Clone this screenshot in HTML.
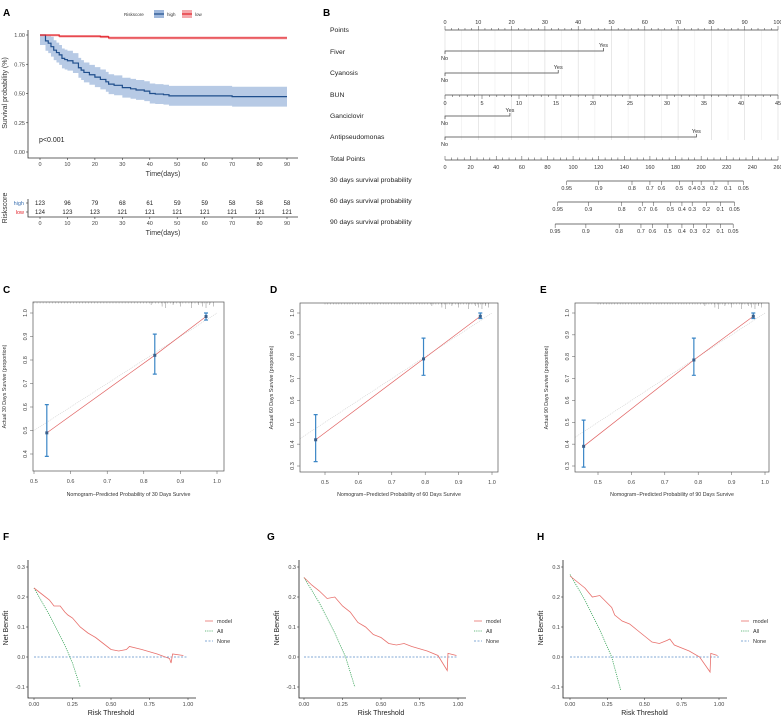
<!DOCTYPE html>
<html><head><meta charset="utf-8">
<style>
html,body{margin:0;padding:0;background:#fff;}
svg{display:block;font-family:"Liberation Sans",Arial,sans-serif;}
</style></head>
<body>
<svg id="fig" width="781" height="717" viewBox="0 0 781 717" xmlns="http://www.w3.org/2000/svg"></svg>
<script>
// ---------- DATA ----------
const kmHighT = [0,2,3,4,5,6,7,8,9,10,12,14,15,16,18,20,22,24,25,27,30,33,35,38,40,42,45,47,55,65,70,80,90];
const kmHighS = [1,0.95,0.93,0.9,0.87,0.85,0.83,0.8,0.79,0.78,0.76,0.72,0.70,0.68,0.66,0.64,0.62,0.60,0.58,0.57,0.55,0.54,0.53,0.52,0.50,0.495,0.49,0.48,0.48,0.48,0.473,0.473,0.473];
const kmLowT = [0,7,20,22,25,90];
const kmLowS = [1,0.99,0.99,0.985,0.975,0.975];
const riskTimes = [0,10,20,30,40,50,60,70,80,90];
const riskHigh = [123,96,79,68,61,59,59,58,58,58];
const riskLow = [124,123,123,121,121,121,121,121,121,121];
const kmYTicks = [0,0.25,0.5,0.75,1.0];

const nomoLabels = ["Points","Fiver","Cyanosis","BUN","Ganciclovir","Antipseudomonas","Total Points","30 days survival probability","60 days survival probability","90 days survival probability"];
const factorNames = ["Fiver","Cyanosis","Ganciclovir","Antipseudomonas"];
const factorYesPoints = [47.6,34,19.5,75.5];
const probTicks = ["0.95","0.9","0.8","0.7","0.6","0.5","0.4","0.3","0.2","0.1","0.05"];
const prob30TotalPts = [95,120,146,160,169,183,193,200,210,221,233];
const prob60TotalPts = [88,112,138,154,163,176,185,193,204,215,226];
const prob90TotalPts = [86,110,136,153,162,174,185,194,204,215,225];

const calPredC = [0.535,0.83,0.97], calObsC = [0.49,0.82,0.985], calLoC = [0.39,0.74,0.97], calHiC = [0.61,0.91,1.0];
const calPredD = [0.472,0.795,0.965], calObsD = [0.42,0.79,0.985], calLoD = [0.32,0.715,0.975], calHiD = [0.535,0.885,1.0];
const calPredE = [0.457,0.787,0.965], calObsE = [0.39,0.785,0.985], calLoE = [0.295,0.715,0.975], calHiE = [0.51,0.885,1.0];

const dcaTF = [0,0.05,0.1,0.13,0.17,0.2,0.22,0.25,0.3,0.35,0.4,0.45,0.5,0.55,0.6,0.62,0.7,0.8,0.88,0.89,0.9,0.97];
const dcaMF = [0.23,0.21,0.19,0.17,0.17,0.15,0.14,0.13,0.1,0.08,0.065,0.045,0.025,0.02,0.025,0.035,0.025,0.01,-0.005,-0.02,0.01,0.005];
const dcaAllTF = [0,0.1,0.2,0.25,0.3], dcaAllF = [0.23,0.14,0.04,-0.02,-0.1];
const dcaTG = [0,0.05,0.1,0.15,0.2,0.25,0.3,0.35,0.4,0.45,0.5,0.55,0.6,0.65,0.7,0.8,0.87,0.93,0.935,0.99];
const dcaMG = [0.265,0.24,0.22,0.195,0.2,0.17,0.15,0.115,0.1,0.075,0.065,0.045,0.04,0.045,0.035,0.02,0.005,-0.045,0.012,0.005];
const dcaAllTG = [0,0.1,0.2,0.27,0.33], dcaAllG = [0.265,0.18,0.08,0,-0.1];
const dcaTH = [0,0.05,0.1,0.15,0.2,0.25,0.28,0.3,0.35,0.4,0.45,0.5,0.55,0.6,0.65,0.67,0.7,0.8,0.87,0.94,0.945,0.99];
const dcaMH = [0.27,0.25,0.23,0.2,0.205,0.18,0.165,0.14,0.12,0.11,0.09,0.07,0.05,0.045,0.055,0.06,0.04,0.02,0.0,-0.05,0.012,0.005];
const dcaAllTH = [0,0.1,0.2,0.28,0.34], dcaAllH = [0.275,0.19,0.09,0,-0.11];

// ---------- HELPERS ----------
const NS = "http://www.w3.org/2000/svg";
const svg = document.getElementById('fig');
function mk(tag, attrs, parent){
  const e = document.createElementNS(NS, tag);
  for (const k in attrs) e.setAttribute(k, attrs[k]);
  (parent || svg).appendChild(e);
  return e;
}
function txt(x,y,s,size,anchor,fill,parent,extra){
  const a = {x:x,y:y,'font-size':size,'text-anchor':anchor||'middle',fill:fill||'#333'};
  if (extra) for (const k in extra) a[k]=extra[k];
  const t = mk('text',a,parent); t.textContent = s; return t;
}
function grp(){ return mk('g',{}); }

// panel letters
[["A",3,16],["B",323,16],["C",3,293],["D",270,293],["E",540,293],["F",3,540],["G",267,540],["H",537,540]].forEach(function(p){
  const t = txt(p[1],p[2],p[0],10,'start','#000',null,{'font-weight':'bold'});
  
  
});

// ---------- PANEL A ----------
(function(){
  const g = grp();
  
  
  const xA = t => 40 + t*(247/90);
  const yA = s => 152 - s*117;
  function stepPath(T,S,off){
    let d = 'M'+xA(T[0])+','+yA(Math.min(1,S[0]+off));
    for (let i=1;i<T.length;i++){ d += ' H'+xA(T[i])+' V'+yA(Math.min(1,S[i]+off)); }
    return d;
  }
  function band(T,S,w){
    let up = stepPath(T,S,w);
    let lo = [];
    for (let i=T.length-1;i>=0;i--){ lo.push([xA(T[i]), yA(Math.max(0,S[i]-w))]); if(i>0) lo.push([xA(T[i]), yA(Math.max(0,S[i-1]-w))]); }
    return up + ' ' + lo.map(p=>'L'+p[0]+','+p[1]).join(' ') + ' Z';
  }
  const hb = mk('path',{d:band(kmHighT,kmHighS,0.085),fill:'#9fb8dc','fill-opacity':0.75,stroke:'none'},g);
  
  
  const lb = mk('path',{d:band(kmLowT,kmLowS,0.012),fill:'#f4a8ac','fill-opacity':0.8,stroke:'none'},g);
  
  
  const hl = mk('path',{d:stepPath(kmHighT,kmHighS,0),fill:'none',stroke:'#1f4e8c','stroke-width':1.2},g);
  
  
  const ll = mk('path',{d:stepPath(kmLowT,kmLowS,0),fill:'none',stroke:'#e3242b','stroke-width':1.2},g);
  
  
  mk('path',{d:'M28,30 V158 H298',fill:'none',stroke:'#333','stroke-width':0.8},g);
  kmYTicks.forEach(function(v){
    mk('line',{x1:26,x2:28,y1:yA(v),y2:yA(v),stroke:'#333','stroke-width':0.6},g);
    const t = txt(25,yA(v)+2,v.toFixed(2),5.5,'end','#444',g);
    
    
  });
  riskTimes.forEach(function(v){
    mk('line',{x1:xA(v),x2:xA(v),y1:158,y2:160,stroke:'#333','stroke-width':0.6},g);
    const t = txt(xA(v),166,String(v),5.5,'middle','#444',g);
    
    
  });
  const xt = txt(163,176,'Time(days)',7,'middle','#333',g);
  
  
  const yt = txt(0,0,'Survival probability (%)',7,'middle','#333',g,{transform:'translate(7,93) rotate(-90)'});
  
  
  const pv = txt(39,142,'p<0.001',7,'start','#222',g);
  
  
  // legend
  const lg = mk('g',{},g);
  
  
  txt(124,16,'Riskscore',4.5,'start','#333',lg);
  mk('rect',{x:154,y:10,width:10,height:8,fill:'#9fb8dc'},lg);
  mk('line',{x1:154,x2:164,y1:14,y2:14,stroke:'#1f4e8c','stroke-width':1.2},lg);
  txt(167,16,'high',4.5,'start','#333',lg);
  mk('rect',{x:182,y:10,width:10,height:8,fill:'#f4a8ac'},lg);
  mk('line',{x1:182,x2:192,y1:14,y2:14,stroke:'#e3242b','stroke-width':1.2},lg);
  txt(195,16,'low',4.5,'start','#333',lg);
  // risk table
  const rt = mk('g',{},g);
  
  
  txt(24,205,'high',5.5,'end','#3a6fb0',rt);
  txt(24,214,'low',5.5,'end','#e3242b',rt);
  riskTimes.forEach(function(v,i){
    const a = txt(xA(v),205,String(riskHigh[i]),6,'middle','#222',rt);
    
    
    const b = txt(xA(v),214,String(riskLow[i]),6,'middle','#222',rt);
    
    
    mk('line',{x1:xA(v),x2:xA(v),y1:217,y2:219,stroke:'#333','stroke-width':0.6},rt);
    txt(xA(v),225,String(v),5.5,'middle','#444',rt);
  });
  mk('path',{d:'M28,199 V217 H298',fill:'none',stroke:'#333','stroke-width':0.8},rt);
  mk('line',{x1:26,x2:28,y1:203,y2:203,stroke:'#333','stroke-width':0.6},rt);
  mk('line',{x1:26,x2:28,y1:212,y2:212,stroke:'#333','stroke-width':0.6},rt);
  txt(163,235,'Time(days)',7,'middle','#333',rt);
  txt(0,0,'Riskscore',7,'middle','#333',rt,{transform:'translate(7,208) rotate(-90)'});
})();

// ---------- PANEL B (nomogram) ----------
(function(){
  const g = grp();
  
  
  const px = p => 445 + p*3.33;
  const tp = p => 445 + p*(333/260);
  const bun = v => 445 + v*(333/45);
  const rowY = [30,52,73,95,116,137,159,180,201,222];
  nomoLabels.forEach(function(s,i){
    const t = txt(330,rowY[i]+2,s,6.8,'start','#222',g);
    
    
  });
  // grid
  for (let p=0;p<=100;p+=5){
    mk('line',{x1:px(p),x2:px(p),y1:30,y2:p%10===0?140:140,stroke:p%10===0?'#d8d8d8':'#eeeeee','stroke-width':0.6},g);
  }
  // points axis
  mk('line',{x1:px(0),x2:px(100),y1:30,y2:30,stroke:'#444','stroke-width':0.7},g);
  for (let p=0;p<=100;p+=2){
    mk('line',{x1:px(p),x2:px(p),y1:30,y2:p%10===0?26:28,stroke:'#444','stroke-width':0.5},g);
  }
  for (let p=0;p<=100;p+=10){
    const t = txt(px(p),24,String(p),5.5,'middle','#333',g);
    
    
  }
  // factor lines
  const fy = [51,73,116,137];
  factorNames.forEach(function(n,i){
    const y = fy[i], xe = px(factorYesPoints[i]);
    const l = mk('path',{d:'M'+px(0)+','+(y+3)+' V'+y+' H'+xe+' V'+(y-3),fill:'none',stroke:'#444','stroke-width':0.7},g);
    
    
    txt(xe,y-4,'Yes',5.5,'middle','#333',g);
    txt(px(0)-4,y+9,'No',5.5,'start','#333',g);
  });
  // BUN axis
  mk('line',{x1:bun(0),x2:bun(45),y1:95,y2:95,stroke:'#444','stroke-width':0.7},g);
  for (let v=0;v<=45;v+=1){
    mk('line',{x1:bun(v),x2:bun(v),y1:95,y2:v%5===0?99:97,stroke:'#444','stroke-width':0.5},g);
  }
  for (let v=0;v<=45;v+=5){
    const t = txt(bun(v),105,String(v),5.5,'middle','#333',g);
    
    
  }
  // total points
  mk('line',{x1:tp(0),x2:tp(260),y1:160,y2:160,stroke:'#444','stroke-width':0.7},g);
  for (let v=0;v<=260;v+=5){
    mk('line',{x1:tp(v),x2:tp(v),y1:160,y2:v%20===0?156:157.5,stroke:'#444','stroke-width':0.5},g);
  }
  for (let v=0;v<=260;v+=20){
    const t = txt(tp(v),169,String(v),5.5,'middle','#333',g);
    
    
  }
  // probability axes
  [[prob30TotalPts,181],[prob60TotalPts,202],[prob90TotalPts,224]].forEach(function(r,j){
    const arr = r[0], y = r[1];
    const ax = mk('line',{x1:tp(arr[0]),x2:tp(arr[arr.length-1]),y1:y,y2:y,stroke:'#444','stroke-width':0.7},g);
    
    
    arr.forEach(function(v,i){
      mk('line',{x1:tp(v),x2:tp(v),y1:y,y2:y+4,stroke:'#444','stroke-width':0.5},g);
      txt(tp(v),y+9,probTicks[i],5.5,'middle','#333',g);
    });
  });
})();

// ---------- CALIBRATION PANELS ----------
function calPanel(name, box, xm, ym, yTicks, pred, obs, lo, hi, days){
  const g = grp();
  
  
  const X = v => xm[0] + (v-0.5)*(xm[1]-xm[0])/0.5;
  const Y = v => ym[0] + (1.0-v)*(ym[1]-ym[0])/(1.0-yTicks[0]);
  // ideal line
  const x0v = (box[0]-xm[0])/((xm[1]-xm[0])/0.5)+0.5;
  mk('line',{x1:box[0],y1:Y(x0v),x2:X(1.0),y2:Y(1.0),stroke:'#cccccc','stroke-width':0.6,'stroke-dasharray':'1,1'},g);
  // rug
  for (let i=0;i<60;i++){
    const v = 0.5 + i*0.0083;
    mk('line',{x1:X(v),x2:X(v),y1:box[1],y2:box[1]+1.5,stroke:'#888','stroke-width':0.4},g);
  }
  [0.82,0.85,0.86,0.88,0.9,0.93,0.95,0.96,0.97,0.98,0.99].forEach(function(v,i){
    mk('line',{x1:X(v),x2:X(v),y1:box[1],y2:box[1]+3+(i%3)*1.5,stroke:'#888','stroke-width':0.5},g);
  });
  // fitted line
  let d = pred.map((p,i)=>(i?'L':'M')+X(p)+','+Y(obs[i])).join(' ');
  const fl = mk('path',{d:d,fill:'none',stroke:'#e06060','stroke-width':0.7},g);
  
  
  pred.forEach(function(p,i){
    const eb = mk('path',{d:'M'+X(p)+','+Y(lo[i])+' V'+Y(hi[i])+' M'+(X(p)-2)+','+Y(lo[i])+' h4 M'+(X(p)-2)+','+Y(hi[i])+' h4',stroke:'#3b86c6','stroke-width':1.2,fill:'none'},g);
    
    
    const pt = mk('rect',{x:X(p)-1.5,y:Y(obs[i])-1.5,width:3,height:3,fill:'#3a5f8a'},g);
    
    
  });
  mk('rect',{x:box[0],y:box[1],width:box[2]-box[0],height:box[3]-box[1],fill:'none',stroke:'#555','stroke-width':0.7},g);
  [0.5,0.6,0.7,0.8,0.9,1.0].forEach(function(v){
    mk('line',{x1:X(v),x2:X(v),y1:box[3],y2:box[3]+3,stroke:'#555','stroke-width':0.5},g);
    const t = txt(X(v),box[3]+12,v.toFixed(1),5.5,'middle','#444',g);
    
    
  });
  yTicks.forEach(function(v){
    mk('line',{x1:box[0]-3,x2:box[0],y1:Y(v),y2:Y(v),stroke:'#555','stroke-width':0.5},g);
    const t = txt(0,0,v.toFixed(1),5.5,'middle','#444',g,{transform:'translate('+(box[0]-6)+','+Y(v)+') rotate(-90)'});
    
    
  });
  const xt = txt((box[0]+box[2])/2,496,'Nomogram\u2212Predicted Probability of '+days+' Days Survive',5.3,'middle','#333',g);
  
  
  const yt = txt(0,0,'Actual '+days+' Days Survive (proportion)',5.3,'middle','#333',g,{transform:'translate('+(box[0]-27)+','+((box[1]+box[3])/2)+') rotate(-90)'});
  
  
}
calPanel('calibration-30-days',[33,302,224,471],[34,217],[313,454],[0.4,0.5,0.6,0.7,0.8,0.9,1.0],calPredC,calObsC,calLoC,calHiC,30);
calPanel('calibration-60-days',[300,303,498,472],[325,492],[313,466],[0.3,0.4,0.5,0.6,0.7,0.8,0.9,1.0],calPredD,calObsD,calLoD,calHiD,60);
calPanel('calibration-90-days',[575,303,769,472],[598,765],[313,466],[0.3,0.4,0.5,0.6,0.7,0.8,0.9,1.0],calPredE,calObsE,calLoE,calHiE,90);

// ---------- DCA PANELS ----------
function dcaPanel(name, axL, x0, x1, T, M, AT, A, legX){
  const g = grp();
  
  
  const X = v => x0 + v*(x1-x0);
  const Y = v => 657 - v*300;
  const none = mk('line',{x1:X(0),x2:X(1),y1:Y(0),y2:Y(0),stroke:'#5b8fc9','stroke-width':0.7,'stroke-dasharray':'2,1.5'},g);
  
  
  const all = mk('path',{d:AT.map((t,i)=>(i?'L':'M')+X(t)+','+Y(A[i])).join(' '),fill:'none',stroke:'#3aa55a','stroke-width':0.8,'stroke-dasharray':'1.2,1'},g);
  
  
  const m = mk('path',{d:T.map((t,i)=>(i?'L':'M')+X(t)+','+Y(M[i])).join(' '),fill:'none',stroke:'#e8706c','stroke-width':0.8},g);
  
  
  mk('path',{d:'M'+axL+',560 V698 H'+(x1+8),fill:'none',stroke:'#222','stroke-width':0.8},g);
  [-0.1,0,0.1,0.2,0.3].forEach(function(v){
    mk('line',{x1:axL-2,x2:axL,y1:Y(v),y2:Y(v),stroke:'#222','stroke-width':0.5},g);
    const t = txt(axL-3,Y(v)+2,v.toFixed(1),5.5,'end','#444',g);
    
    
  });
  [0,0.25,0.5,0.75,1].forEach(function(v){
    mk('line',{x1:X(v),x2:X(v),y1:698,y2:700,stroke:'#222','stroke-width':0.5},g);
    const t = txt(X(v),706,v.toFixed(2),5.5,'middle','#444',g);
    
    
  });
  const xt = txt((x0+x1)/2,715,'Risk Threshold',7,'middle','#222',g);
  
  
  const yt = txt(0,0,'Net Benefit',7,'middle','#222',g,{transform:'translate('+(axL-20)+',628) rotate(-90)'});
  
  
  const lg = mk('g',{},g);
  
  
  mk('line',{x1:legX,x2:legX+8,y1:621,y2:621,stroke:'#e8706c','stroke-width':0.8},lg);
  txt(legX+12,623,'model',5.5,'start','#333',lg);
  mk('line',{x1:legX,x2:legX+8,y1:631,y2:631,stroke:'#3aa55a','stroke-width':0.8,'stroke-dasharray':'1.2,1'},lg);
  txt(legX+12,633,'All',5.5,'start','#333',lg);
  mk('line',{x1:legX,x2:legX+8,y1:641,y2:641,stroke:'#5b8fc9','stroke-width':0.8,'stroke-dasharray':'2,1.5'},lg);
  txt(legX+12,643,'None',5.5,'start','#333',lg);
}
dcaPanel('dca-30-days',28,34,188,dcaTF,dcaMF,dcaAllTF,dcaAllF,205);
dcaPanel('dca-60-days',299,304,458,dcaTG,dcaMG,dcaAllTG,dcaAllG,474);
dcaPanel('dca-90-days',563,570,719,dcaTH,dcaMH,dcaAllTH,dcaAllH,741);
</script>
</body></html>
